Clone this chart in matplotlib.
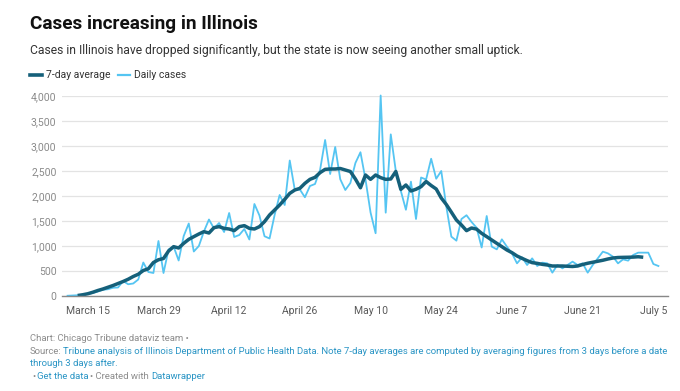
import numpy as np
import pandas as pd
import matplotlib
matplotlib.use("Agg")
import matplotlib.pyplot as plt
import matplotlib.dates as mdates
from matplotlib.lines import Line2D

plt.rcParams['font.family'] = ['Roboto', 'DejaVu Sans']

# daily cases, Mar 11 - Jul 6
daily_start = "2020-03-11"
daily_cases = [
    5, 10, 15, 25, 40, 60, 90, 125, 135, 165, 170, 300, 235, 250, 330, 670, 480, 460, 1100, 460, 930,
    990, 710, 1200, 1450, 890, 1000, 1290, 1530, 1350, 1460, 1280, 1660, 1180, 1220, 1340, 1130, 1840, 1610, 1195, 1150,
    1620, 2020, 1820, 2710, 2120, 2130, 1975, 2200, 2240, 2520,
    3120, 2440, 2980, 2335, 2120, 2260, 2660, 2875, 2330, 1670, 1255, 4010, 1667, 3233, 2500, 2100, 1725, 2287, 1540, 2370,
    2330, 2745, 2345, 2500, 1790, 1187, 1107, 1540, 1615, 1480, 1365,
    970, 1600, 987, 933, 1133, 987, 853, 653, 773, 620, 753, 600, 667, 653, 467, 620, 553, 620, 687, 620,
    653, 467, 620, 753, 887, 853, 787, 653, 733, 707,
    820, 867, 867, 867, 640, 600,
]

# 7-day average, Mar 13 - Jul 3
avg_start = "2020-03-13"
avg_7day = [
    10, 25, 45, 75, 110, 140, 175, 210, 250, 290, 335, 390, 435, 510, 545, 670, 725, 750, 900,
    987, 960, 1053, 1133, 1187, 1240, 1287, 1260, 1367, 1387, 1353, 1340, 1307, 1387, 1407, 1353, 1340, 1387, 1487, 1620,
    1720, 1820, 1933, 2053, 2120, 2153, 2253, 2333, 2373, 2467,
    2533, 2540, 2540, 2550, 2520, 2490, 2340, 2165, 2420, 2333, 2420, 2367, 2333, 2340, 2490, 2133, 2220, 2100, 2135, 2187,
    2290, 2210, 2140, 1960, 1830, 1677, 1520, 1420, 1307, 1360, 1337,
    1253, 1187, 1120, 1053, 987, 920, 867, 800, 753, 707, 667, 653, 633, 620, 600, 600, 600, 595, 590, 600,
    630, 655, 675, 695, 715, 740, 760, 770, 773, 775,
    778, 785, 775,
]

tick_dates = ["2020-03-15", "2020-03-29", "2020-04-12", "2020-04-26", "2020-05-10",
              "2020-05-24", "2020-06-07", "2020-06-21", "2020-07-05"]
tick_labels = ["March 15", "March 29", "April 12", "April 26", "May 10",
               "May 24", "June 7", "June 21", "July 5"]
y_ticks = [0, 500, 1000, 1500, 2000, 2500, 3000, 3500, 4000]

daily_x = pd.date_range(daily_start, periods=len(daily_cases), freq="D")
avg_x = pd.date_range(avg_start, periods=len(avg_7day), freq="D")

W, H = 680, 391
fig = plt.figure(figsize=(W / 100, H / 100), dpi=100)

# plot area in pixels: left 62, right 668, top 96, bottom 296
ax = fig.add_axes([62 / W, 1 - 296 / H, (668 - 62) / W, (296 - 96) / H])
ax.plot(daily_x, daily_cases, color="#55c5f2", lw=1.3, zorder=3, clip_on=False)
ax.plot(avg_x, avg_7day, color="#15607a", lw=2.5, zorder=4, solid_capstyle="butt")

x0 = pd.Timestamp("2020-03-15")
ax.set_xlim(x0 - pd.Timedelta(days=5.1), x0 + pd.Timedelta(days=114.9))
ax.set_ylim(0, 4000)
ax.set_yticks(y_ticks)
ax.set_yticklabels([f"{v:,}" for v in y_ticks])
ax.set_xticks(pd.to_datetime(tick_dates))
ax.set_xticklabels(tick_labels)
ax.tick_params(axis="y", length=0, pad=4, labelsize=7.5, labelcolor="#8a8a8a")
ax.tick_params(axis="x", length=0, pad=7, labelsize=7.5, labelcolor="#595959")
ax.grid(axis="y", color="#e3e3e3", lw=0.9)
ax.set_axisbelow(True)
for s in ["top", "right", "left"]:
    ax.spines[s].set_visible(False)
ax.spines["bottom"].set_color("#888888")
ax.spines["bottom"].set_linewidth(1.0)
ax.spines["bottom"].set_zorder(5)


def px(x, y):
    return x / W, 1 - y / H


fig.text(*px(30, 29), "Cases increasing in Illinois", fontsize=13.7, fontweight="bold",
         color="#111111", va="baseline")
fig.text(*px(30, 54), "Cases in Illinois have dropped significantly, but the state is now seeing another small uptick.",
         fontsize=8.7, color="#333333", va="baseline")

# legend
fig.add_artist(Line2D([30 / W, 42 / W], [1 - 75 / H] * 2, color="#15607a", lw=2.6))
fig.text(*px(46, 78), "7-day average", fontsize=7.5, color="#333333", va="baseline")
fig.add_artist(Line2D([118 / W, 130 / W], [1 - 75 / H] * 2, color="#55c5f2", lw=1.6))
fig.text(*px(134, 78), "Daily cases", fontsize=7.5, color="#333333", va="baseline")

# footer with mixed colours
grey, blue = "#8c8c8c", "#2a95c5"
renderer = fig.canvas.get_renderer()


def text_row(y, pieces, x=30, size=6.8, gap=1.8):
    for s, c in pieces:
        t = fig.text(*px(x, y), s, fontsize=size, color=c, va="baseline")
        x += t.get_window_extent(renderer).width + gap


text_row(341, [("Chart: Chicago Tribune dataviz team •", grey)])
text_row(354, [("Source:", grey),
               ("Tribune analysis of Illinois Department of Public Health Data. Note 7-day averages are computed by averaging figures from 3 days before a date", blue)])
text_row(366, [("through 3 days after.", blue)])
text_row(379, [("•", grey), ("Get the data", blue), ("• Created with", grey), ("Datawrapper", blue)], x=32)

fig.savefig("out.png", dpi=100)
